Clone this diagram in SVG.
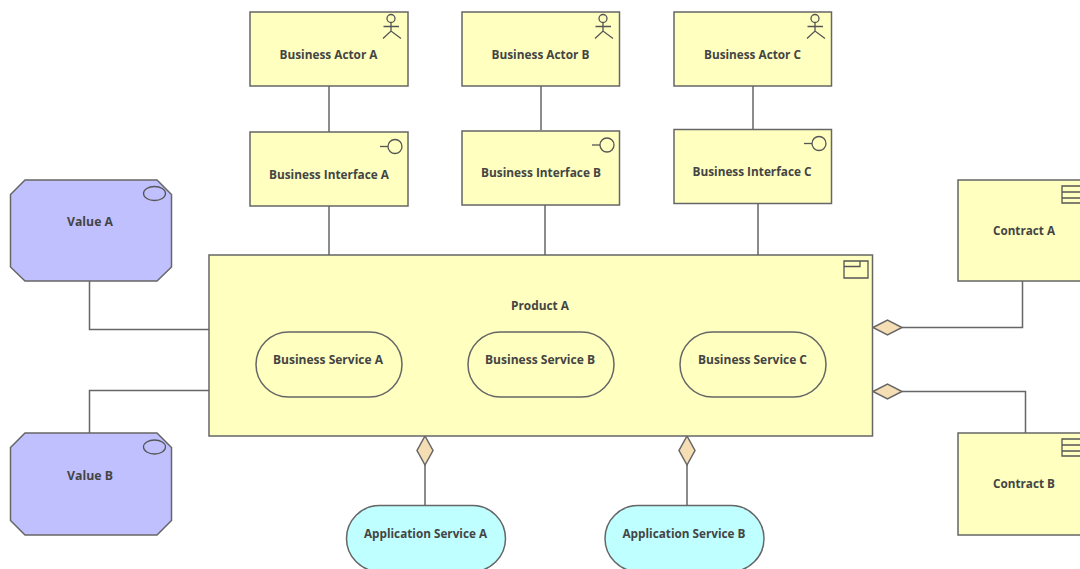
<svg xmlns="http://www.w3.org/2000/svg" width="1080" height="569" viewBox="0 0 1080 569">
<style>
.y{fill:#ffffc0;stroke:#666;stroke-width:1.5}
.v{fill:#c0c0ff;stroke:#666;stroke-width:1.5}
.c{fill:#c0ffff;stroke:#666;stroke-width:1.5}
.i{fill:none;stroke:#555;stroke-width:1.3}
.k{fill:none;stroke:#666;stroke-width:1.5}
.d{fill:#f5deb3;stroke:#666;stroke-width:1.5}
text{font-family:"Open Sans","Liberation Sans",sans-serif;font-weight:700;font-size:12px;fill:#444;text-anchor:middle}
</style>
<rect width="1080" height="569" fill="#fff"/>
<g id="connectors">
<path class="k" d="M329 86V132M541 86V130M753 86V129M329 206V255M545 205V255M758 203V255"/>
<path class="k" d="M89.500 281V329.500H209M89.500 433V390.500H209"/>
<path class="k" d="M902 327.500H1022.500V281M902 391.500H1025.500V433"/>
<path class="k" d="M425 465V505M687 465V505"/>
<path class="d" d="M873 327.500L887.500 320L902 327.500L887.500 335Z"/>
<path class="d" d="M873 391.500L887.500 384L902 391.500L887.500 399Z"/>
<path class="d" d="M425 436L433 450.500L425 465L417 450.500Z"/>
<path class="d" d="M687 436L695 450.500L687 465L679 450.500Z"/>
</g>
<g id="actorA"><rect class="y" x="250" y="12" width="158" height="74"/><path class="i" d="M391 23V31M383.500 26.500H399M383 38.500L391 31L401 38.500"/><circle class="i" cx="391" cy="18.500" r="4"/><text x="328.500" y="59" textLength="98" lengthAdjust="spacingAndGlyphs">Business Actor A</text></g>
<g id="actorB"><rect class="y" x="462" y="12" width="157.500" height="74"/><path class="i" d="M603 23V31M595.500 26.500H611M595 38.500L603 31L613 38.500"/><circle class="i" cx="603" cy="18.500" r="4"/><text x="540.500" y="59" textLength="98" lengthAdjust="spacingAndGlyphs">Business Actor B</text></g>
<g id="actorC"><rect class="y" x="674" y="12" width="157.500" height="74"/><path class="i" d="M815 23V31M807.500 26.500H823M807 38.500L815 31L825 38.500"/><circle class="i" cx="815" cy="18.500" r="4"/><text x="752.500" y="59" textLength="97" lengthAdjust="spacingAndGlyphs">Business Actor C</text></g>
<g id="interfaceA"><rect class="y" x="250" y="132" width="158" height="74"/><path class="i" d="M380 146.500H388"/><circle class="i" cx="395" cy="146.500" r="7"/><text x="329" y="179" textLength="120" lengthAdjust="spacingAndGlyphs">Business Interface A</text></g>
<g id="interfaceB"><rect class="y" x="462" y="131" width="157.500" height="74"/><path class="i" d="M592 145H600"/><circle class="i" cx="607" cy="145" r="7"/><text x="541" y="177" textLength="120" lengthAdjust="spacingAndGlyphs">Business Interface B</text></g>
<g id="interfaceC"><rect class="y" x="674" y="129.500" width="157.500" height="74"/><path class="i" d="M804 143.500H812"/><circle class="i" cx="819" cy="143.500" r="7"/><text x="752" y="176" textLength="119" lengthAdjust="spacingAndGlyphs">Business Interface C</text></g>
<g id="valueA"><path class="v" d="M25 180H157L171.500 194.500V267L157 281H25L10.500 267V194.500Z"/><ellipse class="i" cx="154.500" cy="193.500" rx="11" ry="7"/><text x="90" y="226" textLength="46" lengthAdjust="spacingAndGlyphs">Value A</text></g>
<g id="valueB"><path class="v" d="M25 433H157L171.500 447.500V520.500L157 535H25L10.500 520.500V447.500Z"/><ellipse class="i" cx="154.500" cy="447" rx="11" ry="7"/><text x="90" y="480" textLength="46" lengthAdjust="spacingAndGlyphs">Value B</text></g>
<g id="productA"><rect class="y" x="209" y="255" width="663.500" height="181"/><path class="i" d="M844 261H868V278H844ZM844 266.500H860V261"/><text x="540" y="310" textLength="58" lengthAdjust="spacingAndGlyphs">Product A</text></g>
<g id="serviceA"><rect class="y" x="256" y="332" width="146" height="65" rx="32.500"/><text x="328" y="364" textLength="110" lengthAdjust="spacingAndGlyphs">Business Service A</text></g>
<g id="serviceB"><rect class="y" x="468" y="332" width="146" height="65" rx="32.500"/><text x="540" y="364" textLength="110" lengthAdjust="spacingAndGlyphs">Business Service B</text></g>
<g id="serviceC"><rect class="y" x="680" y="332" width="146" height="65" rx="32.500"/><text x="752.500" y="364" textLength="109" lengthAdjust="spacingAndGlyphs">Business Service C</text></g>
<g id="contractA"><rect class="y" x="958" y="180" width="132" height="101"/><path class="i" d="M1062 186H1090V203H1062ZM1062 192H1090M1062 198H1090"/><text x="1024" y="235" textLength="62" lengthAdjust="spacingAndGlyphs">Contract A</text></g>
<g id="contractB"><rect class="y" x="958" y="433" width="132" height="102"/><path class="i" d="M1062 439H1090V456H1062ZM1062 445H1090M1062 451H1090"/><text x="1024" y="488" textLength="62" lengthAdjust="spacingAndGlyphs">Contract B</text></g>
<g id="appServiceA"><rect class="c" x="346.500" y="505.500" width="159" height="66" rx="33"/><text x="425.500" y="538" textLength="123" lengthAdjust="spacingAndGlyphs">Application Service A</text></g>
<g id="appServiceB"><rect class="c" x="605" y="505.500" width="159" height="66" rx="33"/><text x="684" y="538" textLength="123" lengthAdjust="spacingAndGlyphs">Application Service B</text></g>
</svg>
